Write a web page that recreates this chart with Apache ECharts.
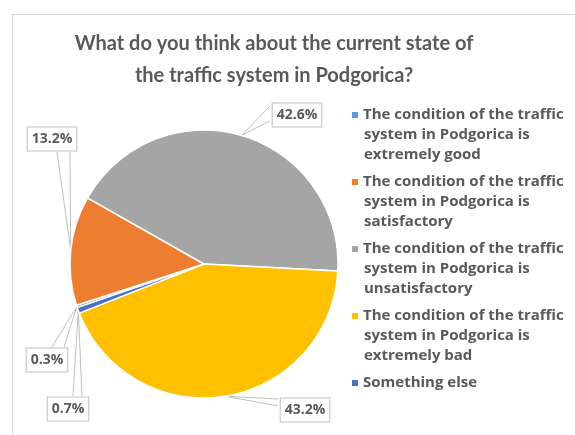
<!DOCTYPE html>
<html>
<head>
<meta charset="utf-8">
<script src="https://cdn.jsdelivr.net/npm/echarts@6/dist/echarts.min.js"></script>
<style>html,body{margin:0;padding:0;background:#fff;}#c{width:575px;height:435px;}</style>
</head>
<body>
<div id="c"></div>
<script>
const titleText = 'What do you think about the current state of\nthe traffic system in Podgorica?';
const categories = [
  'The condition of the traffic system in Podgorica is extremely good',
  'The condition of the traffic system in Podgorica is satisfactory',
  'The condition of the traffic system in Podgorica is unsatisfactory',
  'The condition of the traffic system in Podgorica is extremely bad',
  'Something else'
];
const values = [0.3, 13.2, 42.6, 43.2, 0.7];
const colors = ['#5B9BD5', '#ED7D31', '#A5A5A5', '#FFC000', '#4472C4'];

// label box layout (center + callout attach points)
const labelBoxes = [
  {x: 47, y: 360, a: [52, 347], b: [64, 347]},
  {x: 52, y: 139, a: [57, 152], b: [70, 152]},
  {x: 297, y: 115, a: [270, 106], b: [270, 121]},
  {x: 305, y: 410, a: [278, 399], b: [278, 406]},
  {x: 68, y: 409, a: [73, 396], b: [82, 396]}
];

const TFONT = 'Lato';
const FONT = 'Open Sans';
const TXT = '#595959';

const rich = {
  g: {width: 5, height: 7, lineHeight: 20},
  s: {width: 12, height: 7, lineHeight: 20},
  t: {fontFamily: FONT, fontWeight: 'bold', fontSize: 15, color: TXT, lineHeight: 20}
};
colors.forEach((c, i) => {
  rich['m' + i] = {width: 6, height: 6, backgroundColor: c, lineHeight: 20};
});

function legendText(name) {
  const i = categories.indexOf(name);
  let lines;
  const k = name.indexOf(' is ');
  if (k >= 0) {
    const t = name.indexOf('traffic ') + 'traffic'.length;
    lines = [name.slice(0, t), name.slice(t + 1, k + 3), name.slice(k + 4)];
  } else {
    lines = [name];
  }
  return lines.map((l, j) => (j === 0 ? '{m' + i + '|}{g|}' : '{s|}') + '{t|' + l + '}').join('\n');
}

const chart = echarts.init(document.getElementById('c'), null, {renderer: 'canvas'});
chart.setOption({
  animation: false,
  backgroundColor: '#fff',
  graphic: [{
    type: 'rect', silent: true, z: -10,
    shape: {x: 12.5, y: 14.5, width: 800, height: 600},
    style: {fill: 'none', stroke: '#d9d9d9', lineWidth: 1}
  }],
  title: {
    text: titleText,
    left: 274, top: 28, textAlign: 'center', padding: 0,
    textStyle: {fontFamily: TFONT, fontSize: 20, fontWeight: 'bold', color: TXT, lineHeight: 32}
  },
  legend: {
    orient: 'vertical',
    left: 347, top: 105, padding: 0,
    itemGap: 7, itemWidth: 0, itemHeight: 14,
    icon: 'none',
    data: categories,
    formatter: legendText,
    textStyle: {fontFamily: FONT, fontWeight: 'bold', fontSize: 15, color: TXT, lineHeight: 20, rich: rich}
  },
  color: colors,
  series: [{
    type: 'pie',
    center: [204, 264],
    radius: 134,
    startAngle: 199,
    clockwise: true,
    avoidLabelOverlap: false,
    itemStyle: {borderColor: '#fff', borderWidth: 1.5},
    emphasis: {disabled: true},
    data: categories.map((n, i) => ({name: n, value: values[i]})),
    label: {
      show: true,
      position: 'outside',
      formatter: p => p.value.toFixed(1) + '%',
      fontFamily: FONT, fontWeight: 'bold', fontSize: 14, color: TXT,
      backgroundColor: '#fff', borderColor: '#bfbfbf', borderWidth: 1,
      padding: [5, 4, 4, 4]
    },
    labelLine: {show: true, length: 10, length2: 10, lineStyle: {color: '#bfbfbf', width: 1}},
    labelLayout: function (p) {
      const b = labelBoxes[p.dataIndex];
      const out = {x: b.x, y: b.y, align: 'center', verticalAlign: 'middle'};
      if (p.labelLinePoints && p.labelLinePoints.length) {
        out.labelLinePoints = [b.a, p.labelLinePoints[0], b.b];
      }
      return out;
    }
  }]
});
</script>
</body>
</html>
